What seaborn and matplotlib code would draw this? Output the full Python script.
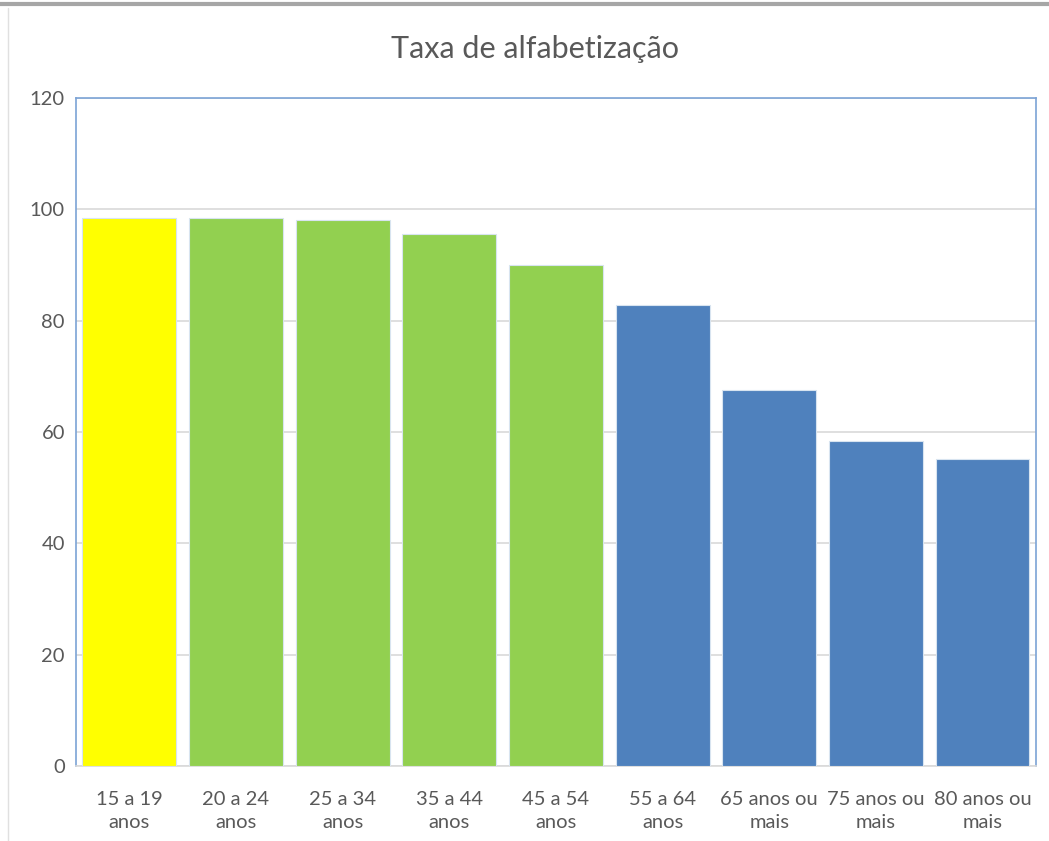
#!/usr/bin/env python3
import matplotlib
matplotlib.use("Agg")
import matplotlib.pyplot as plt
import seaborn as sns
import pandas as pd

# Chart data
faixas = ["15 a 19\nanos", "20 a 24\nanos", "25 a 34\nanos", "35 a 44\nanos",
          "45 a 54\nanos", "55 a 64\nanos", "65 anos ou\nmais",
          "75 anos ou\nmais", "80 anos ou\nmais"]
taxa = [98.4, 98.4, 98.1, 95.6, 90.0, 82.9, 67.6, 58.4, 55.2]
grupo = ["a", "b", "b", "b", "b", "c", "c", "c", "c"]
cores = {"a": "#FFFF00", "b": "#92D050", "c": "#4F81BD"}

sns.set_theme(style="white")
plt.rcParams['font.family'] = ['Lato', 'DejaVu Sans']

df = pd.DataFrame({"faixa": faixas, "taxa": taxa, "grupo": grupo})

fig = plt.figure(figsize=(10.49, 8.41), dpi=100)
ax = fig.add_axes([0.0725, 0.0892, 0.915, 0.7943])

sns.barplot(data=df, x="faixa", y="taxa", hue="grupo", palette=cores,
            dodge=False, width=0.88, legend=False, ax=ax, saturation=1,
            edgecolor="#d8e4f0", linewidth=0.8, zorder=3)

ax.set_ylim(0, 120)
ax.set_xlim(-0.5, len(faixas) - 0.5)
ax.set_yticks(range(0, 121, 20))
ax.yaxis.grid(True, color="#d9d9d9", linewidth=1.2, zorder=0)
ax.set_axisbelow(True)
ax.set_xlabel("")
ax.set_ylabel("")
ax.tick_params(axis="both", length=0, labelsize=14.5, colors="#595959")
ax.tick_params(axis="x", pad=18)
ax.tick_params(axis="y", pad=8)
for lbl in ax.get_xticklabels():
    lbl.set_linespacing(1.4)

for side in ["left", "top", "right"]:
    ax.spines[side].set_color("#7ca3d6")
    ax.spines[side].set_linewidth(1.2)
ax.spines["bottom"].set_color("#d9d9d9")
ax.spines["bottom"].set_linewidth(1.2)

fig.text(0.51, 0.942, "Taxa de alfabetização", ha="center", va="center",
         fontsize=22, color="#595959")

# frame decorations from the screenshot
fig.add_artist(plt.Line2D([0, 1], [0.995, 0.995], color="#a6a6a6", linewidth=3,
                          transform=fig.transFigure))
fig.add_artist(plt.Line2D([0.008, 0.008], [0, 0.99], color="#e0e0e0", linewidth=1,
                          transform=fig.transFigure))

fig.savefig("out.png", dpi=100)
